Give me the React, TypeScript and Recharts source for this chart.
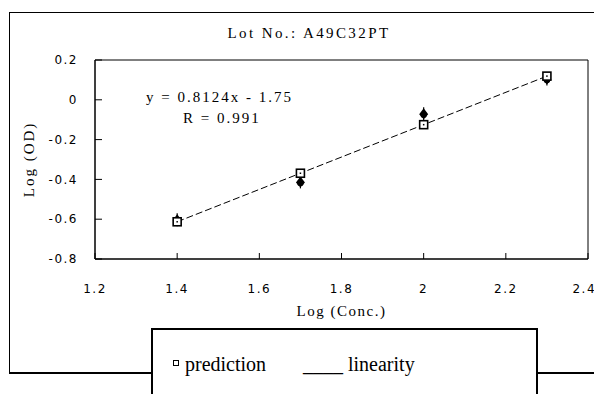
import React from 'react';
import { ComposedChart, XAxis, YAxis, Line, Scatter, ReferenceArea, Label } from 'recharts';

const xTicks = [1.2, 1.4, 1.6, 1.8, 2.0, 2.2, 2.4];
const yTicks = [-0.8, -0.6, -0.4, -0.2, 0, 0.2];
const concLog = [1.4, 1.7, 2.0, 2.3];
const predictionOD = [-0.613, -0.369, -0.125, 0.119];
const measuredOD = [-0.605, -0.415, -0.072, 0.102];

const predictionData = concLog.map((x, i) => ({ x, y: predictionOD[i] }));
const measuredData = concLog.map((x, i) => ({ x, y: measuredOD[i] }));

const serif = '"Liberation Serif", "Times New Roman", serif';
const tickFont = { fontFamily: '"DejaVu Sans", sans-serif', fontSize: 12, fill: '#000', letterSpacing: 1.5 };

const SquareDot = (props: any) => {
  const { cx, cy, index } = props;
  if (cx == null || cy == null) return null;
  return (
    <g key={`sq-${index}`}>
      <rect x={cx - 4} y={cy - 4} width={8} height={8} fill="#fff" stroke="#000" strokeWidth={1.6} />
      <rect x={cx - 0.75} y={cy - 0.75} width={1.5} height={1.5} fill="#000" />
    </g>
  );
};

const StarShape = (props: any) => {
  const { cx, cy } = props;
  if (cx == null || cy == null) return null;
  return (
    <g>
      <polygon points={`${cx},${cy - 6} ${cx + 4.5},${cy} ${cx},${cy + 5} ${cx - 4.5},${cy}`} fill="#000" />
      <circle cx={cx} cy={cy + 0.5} r={3.2} fill="#000" />
      <line x1={cx} y1={cy - 7} x2={cx} y2={cy + 6} stroke="#000" strokeWidth={1.2} />
    </g>
  );
};

export default function App() {
  return (
    <div style={{ position: 'absolute', left: 0, top: 0, width: 594, height: 394, overflow: 'hidden', background: '#fff' }}>
      <div
        style={{
          position: 'absolute',
          left: 9,
          top: 12,
          width: 620,
          height: 359,
          borderTop: '1px solid #000',
          borderLeft: '1px solid #000',
          borderBottom: '2px solid #000',
        }}
      />
      <div style={{ position: 'absolute', left: 0, top: 0 }}>
        <ComposedChart width={594} height={394} margin={{ top: 60, right: 6, bottom: 95, left: 35 }}>
          <XAxis
            dataKey="x"
            type="number"
            domain={[1.2, 2.4]}
            ticks={xTicks}
            allowDataOverflow
            height={40}
            tickSize={-6}
            tickMargin={31}
            tick={tickFont}
            tickFormatter={(v: number) => (Number.isInteger(v) ? String(v) : v.toFixed(1))}
            axisLine={{ stroke: '#000' }}
            tickLine={{ stroke: '#000' }}
          >
            <Label
              value="Log (Conc.)"
              position="bottom"
              offset={6}
              style={{ fontFamily: serif, fontSize: 15, fill: '#000', letterSpacing: 1.5 }}
            />
          </XAxis>
          <YAxis
            dataKey="y"
            type="number"
            domain={[-0.8, 0.2]}
            ticks={yTicks}
            allowDataOverflow
            width={60}
            tickSize={-7}
            tickMargin={24}
            tick={tickFont}
            tickFormatter={(v: number) => (v === 0 ? '0' : v.toFixed(1))}
            axisLine={{ stroke: '#000' }}
            tickLine={{ stroke: '#000' }}
          >
            <Label
              value="Log (OD)"
              angle={-90}
              position="insideLeft"
              offset={-6}
              style={{ fontFamily: serif, fontSize: 15, fill: '#000', textAnchor: 'middle', letterSpacing: 2 }}
            />
          </YAxis>
          <ReferenceArea x1={1.2} x2={2.4} y1={-0.8} y2={0.2} fill="none" stroke="#000" strokeWidth={1} ifOverflow="visible" />
          <Scatter data={measuredData} dataKey="y" shape={<StarShape />} isAnimationActive={false} />
          <Line
            data={predictionData}
            dataKey="y"
            type="linear"
            stroke="#000"
            strokeWidth={1}
            strokeDasharray="7 3"
            dot={<SquareDot />}
            activeDot={false}
            isAnimationActive={false}
          />
        </ComposedChart>
      </div>
      <div style={{ position: 'absolute', left: 180, width: 258, top: 24, textAlign: 'center', fontFamily: serif, fontSize: 15, lineHeight: '18px', letterSpacing: 2.4 }}>
        Lot No.: A49C32PT
      </div>
      <div style={{ position: 'absolute', left: 146, top: 88, fontFamily: serif, fontSize: 15, lineHeight: '18px', letterSpacing: 2, whiteSpace: 'nowrap' }}>
        y = 0.8124x - 1.75
      </div>
      <div style={{ position: 'absolute', left: 183, top: 109, fontFamily: serif, fontSize: 15, lineHeight: '18px', letterSpacing: 2, whiteSpace: 'nowrap' }}>
        R = 0.991
      </div>
      <div
        style={{
          position: 'absolute',
          left: 151,
          top: 328,
          width: 383,
          height: 80,
          background: '#fff',
          border: '2px solid #000',
          fontFamily: serif,
          fontSize: 20,
          lineHeight: '22px',
        }}
      >
        <span
          style={{
            position: 'absolute',
            left: 20,
            top: 30,
            width: 4,
            height: 4,
            border: '1px solid #000',
          }}
        />
        <span style={{ position: 'absolute', left: 32, top: 23, whiteSpace: 'nowrap' }}>prediction</span>
        <span style={{ position: 'absolute', left: 150, top: 23, whiteSpace: 'nowrap' }}>____ linearity</span>
      </div>
    </div>
  );
}
